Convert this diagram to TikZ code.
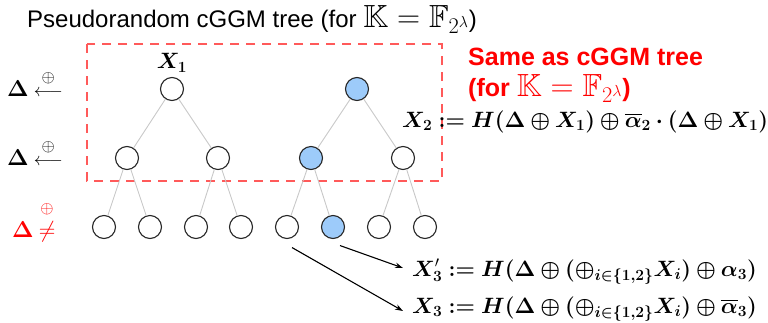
\RequirePackage{fix-cm}
\documentclass[tikz,border=0pt]{standalone}
\usepackage{amsmath,amssymb,bm}
\usepackage{fontspec}
\setmainfont{Liberation Sans}
\usetikzlibrary{arrows.meta}
\definecolor{nodeblue}{HTML}{9DCBFA}
\definecolor{dashred}{HTML}{FF5A5A}
\definecolor{edgegray}{HTML}{C8C8C8}
\newcommand{\bX}{\bm{X}}
\newcommand{\bD}{\bm{\Delta}}
\newcommand{\bo}{\bm{\oplus}}
\newcommand{\bdef}{\mathrel{\bm{:}}\mathrel{\bm{=}}}
\newcommand{\bigmath}[1]{{\fontsize{32}{36}\selectfont$#1$}}
\newcommand{\opsym}{\raisebox{3pt}{\fontsize{17}{17}\selectfont$\oplus$}}
\newcommand{\levlab}[2]{{\fontsize{23}{26}\selectfont$\bD$}\hspace{5pt}{\fontsize{#2}{22}\selectfont$\overset{\opsym}{#1}$}}
\begin{document}
\begin{tikzpicture}[x=1pt,y=-1pt,
  tn/.style={circle,draw=black!85,line width=1.1pt,minimum size=23pt,inner sep=0pt,fill=white},
  hl/.style={tn,fill=nodeblue},
  treeline/.style={draw=edgegray,line width=0.9pt},
  arr/.style={-{Stealth[length=8pt,width=5.5pt]},line width=1.1pt},
  mtxt/.style={inner sep=0pt,font=\fontsize{22.2}{26}\selectfont},
  lbl/.style={inner sep=0pt,anchor=base west},
]
\useasboundingbox (0,0) rectangle (768,322);
% title
\node[anchor=base west,inner sep=0pt,font=\fontsize{24}{30}\selectfont] (title) at (27,27)
  {Pseudorandom cGGM tree (for \bigmath{\mathbb{K}=\mathbb{F}_{2^\lambda}})};
% dashed box
\draw[dashred,line width=1.3pt,dash pattern=on 9pt off 7pt] (87,44) rectangle (442,181);
% tree nodes
\node[tn] (r1) at (172,89) {};
\node[hl] (r2) at (357,89) {};
\node[tn] (m1) at (127,158) {};
\node[tn] (m2) at (218,158) {};
\node[hl] (m3) at (311,158) {};
\node[tn] (m4) at (403,158) {};
\node[tn] (l1) at (104,227) {};
\node[tn] (l2) at (150,227) {};
\node[tn] (l3) at (196,227) {};
\node[tn] (l4) at (241,227) {};
\node[tn] (l5) at (287,227) {};
\node[hl] (l6) at (333,227) {};
\node[tn] (l7) at (379,227) {};
\node[tn] (l8) at (425,227) {};
% edges
\draw[treeline] (r1) -- (m1);
\draw[treeline] (r1) -- (m2);
\draw[treeline] (r2) -- (m3);
\draw[treeline] (r2) -- (m4);
\draw[treeline] (m1) -- (l1);
\draw[treeline] (m1) -- (l2);
\draw[treeline] (m2) -- (l3);
\draw[treeline] (m2) -- (l4);
\draw[treeline] (m3) -- (l5);
\draw[treeline] (m3) -- (l6);
\draw[treeline] (m4) -- (l7);
\draw[treeline] (m4) -- (l8);
% X1 label
\node[mtxt] (lblxone) at (172,63) {$\bX_{\bm{1}}$};
% left labels
\node[lbl] (lv1) at (7,96) {\levlab{\longleftarrow}{18}};
\node[lbl] (lv2) at (7,165) {\levlab{\longleftarrow}{18}};
\node[lbl,text=red] (lv3) at (12,237) {\levlab{\neq}{23}};
% red text
\node[anchor=base west,inner sep=0pt,text=red,font=\bfseries\fontsize{25}{30}\selectfont] (same1) at (468,65) {Same as cGGM tree};
\node[anchor=base west,inner sep=0pt,text=red,font=\bfseries\fontsize{25}{30}\selectfont] (same2) at (468,96) {(for \bigmath{\mathbb{K}=\mathbb{F}_{2^\lambda}})};
% formulas
\node[mtxt,anchor=base west] (f2) at (402,127)
  {$\bX_{\bm{2}} \bdef \bm{H}\bm{(}\bD\bo\bX_{\bm{1}}\bm{)}\bo\overline{\bm{\alpha}}_{\bm{2}}\bm{\cdot}\bm{(}\bD\bo\bX_{\bm{1}}\bm{)}$};
\node[mtxt,anchor=base west] (f3p) at (412,276)
  {$\bX'_{\bm{3}} \bdef \bm{H}\bm{(}\bD\bo\bm{(}\bo_{\bm{i}\bm{\in}\bm{\{}\bm{1}\bm{,}\bm{2}\bm{\}}}\bX_{\bm{i}}\bm{)}\bo\bm{\alpha}_{\bm{3}}\bm{)}$};
\node[mtxt,anchor=base west] (f3) at (412,313)
  {$\bX_{\bm{3}} \bdef \bm{H}\bm{(}\bD\bo\bm{(}\bo_{\bm{i}\bm{\in}\bm{\{}\bm{1}\bm{,}\bm{2}\bm{\}}}\bX_{\bm{i}}\bm{)}\bo\overline{\bm{\alpha}}_{\bm{3}}\bm{)}$};
% arrows
\draw[arr] ([shift={(7,6.5)}]l6.south) -- ([shift={(-9,-8)}]f3p.base west);
\draw[arr] ([shift={(5,8.5)}]l5.south) -- ([shift={(-9,-2)}]f3.base west);
\end{tikzpicture}
\end{document}
